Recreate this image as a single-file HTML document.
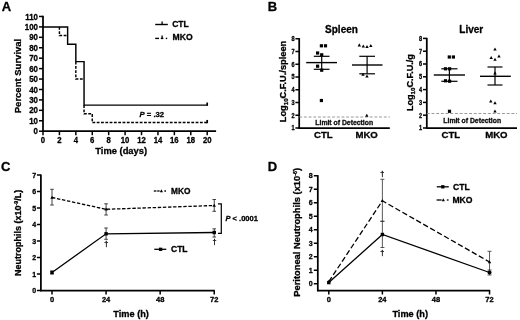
<!DOCTYPE html>
<html lang="en"><head><meta charset="utf-8"><title>Figure</title>
<style>
html,body{margin:0;padding:0;background:#fff;}
body{width:520px;height:320px;overflow:hidden;}
svg{display:block;filter:blur(0.5px);font-family:'Liberation Sans', Arial, sans-serif;}
text{stroke:#000;stroke-width:0.3px;stroke-linejoin:round;}
</style></head><body>
<svg width="520" height="320" viewBox="0 0 520 320">
<rect width="520" height="320" fill="#fff"/>
<g>
<text x="1.80" y="10.60" font-size="13" font-weight="bold" text-anchor="start" fill="#000">A</text>
<line x1="43.00" y1="15.87" x2="43.00" y2="131.95" stroke="#000" stroke-width="1.75" stroke-linecap="butt"/>
<line x1="42.25" y1="131.20" x2="216.10" y2="131.20" stroke="#000" stroke-width="1.75" stroke-linecap="butt"/>
<line x1="39.00" y1="131.20" x2="43.00" y2="131.20" stroke="#000" stroke-width="1.5" stroke-linecap="butt"/>
<text transform="translate(38.00 134.30) scale(0.88 1)" font-size="9.0" font-weight="bold" text-anchor="end" fill="#000">0</text>
<line x1="39.00" y1="120.77" x2="43.00" y2="120.77" stroke="#000" stroke-width="1.5" stroke-linecap="butt"/>
<text transform="translate(38.00 123.87) scale(0.88 1)" font-size="9.0" font-weight="bold" text-anchor="end" fill="#000">10</text>
<line x1="39.00" y1="110.34" x2="43.00" y2="110.34" stroke="#000" stroke-width="1.5" stroke-linecap="butt"/>
<text transform="translate(38.00 113.44) scale(0.88 1)" font-size="9.0" font-weight="bold" text-anchor="end" fill="#000">20</text>
<line x1="39.00" y1="99.91" x2="43.00" y2="99.91" stroke="#000" stroke-width="1.5" stroke-linecap="butt"/>
<text transform="translate(38.00 103.01) scale(0.88 1)" font-size="9.0" font-weight="bold" text-anchor="end" fill="#000">30</text>
<line x1="39.00" y1="89.48" x2="43.00" y2="89.48" stroke="#000" stroke-width="1.5" stroke-linecap="butt"/>
<text transform="translate(38.00 92.58) scale(0.88 1)" font-size="9.0" font-weight="bold" text-anchor="end" fill="#000">40</text>
<line x1="39.00" y1="79.05" x2="43.00" y2="79.05" stroke="#000" stroke-width="1.5" stroke-linecap="butt"/>
<text transform="translate(38.00 82.15) scale(0.88 1)" font-size="9.0" font-weight="bold" text-anchor="end" fill="#000">50</text>
<line x1="39.00" y1="68.62" x2="43.00" y2="68.62" stroke="#000" stroke-width="1.5" stroke-linecap="butt"/>
<text transform="translate(38.00 71.72) scale(0.88 1)" font-size="9.0" font-weight="bold" text-anchor="end" fill="#000">60</text>
<line x1="39.00" y1="58.19" x2="43.00" y2="58.19" stroke="#000" stroke-width="1.5" stroke-linecap="butt"/>
<text transform="translate(38.00 61.29) scale(0.88 1)" font-size="9.0" font-weight="bold" text-anchor="end" fill="#000">70</text>
<line x1="39.00" y1="47.76" x2="43.00" y2="47.76" stroke="#000" stroke-width="1.5" stroke-linecap="butt"/>
<text transform="translate(38.00 50.86) scale(0.88 1)" font-size="9.0" font-weight="bold" text-anchor="end" fill="#000">80</text>
<line x1="39.00" y1="37.33" x2="43.00" y2="37.33" stroke="#000" stroke-width="1.5" stroke-linecap="butt"/>
<text transform="translate(38.00 40.43) scale(0.88 1)" font-size="9.0" font-weight="bold" text-anchor="end" fill="#000">90</text>
<line x1="39.00" y1="26.90" x2="43.00" y2="26.90" stroke="#000" stroke-width="1.5" stroke-linecap="butt"/>
<text transform="translate(38.00 30.00) scale(0.88 1)" font-size="9.0" font-weight="bold" text-anchor="end" fill="#000">100</text>
<line x1="39.00" y1="16.47" x2="43.00" y2="16.47" stroke="#000" stroke-width="1.5" stroke-linecap="butt"/>
<text transform="translate(38.00 19.57) scale(0.88 1)" font-size="9.0" font-weight="bold" text-anchor="end" fill="#000">110</text>
<line x1="43.00" y1="131.20" x2="43.00" y2="135.20" stroke="#000" stroke-width="1.5" stroke-linecap="butt"/>
<text transform="translate(43.00 143.40) scale(0.9 1)" font-size="8.6" font-weight="bold" text-anchor="middle" fill="#000">0</text>
<line x1="59.42" y1="131.20" x2="59.42" y2="135.20" stroke="#000" stroke-width="1.5" stroke-linecap="butt"/>
<text transform="translate(59.42 143.40) scale(0.9 1)" font-size="8.6" font-weight="bold" text-anchor="middle" fill="#000">2</text>
<line x1="75.84" y1="131.20" x2="75.84" y2="135.20" stroke="#000" stroke-width="1.5" stroke-linecap="butt"/>
<text transform="translate(75.84 143.40) scale(0.9 1)" font-size="8.6" font-weight="bold" text-anchor="middle" fill="#000">4</text>
<line x1="92.26" y1="131.20" x2="92.26" y2="135.20" stroke="#000" stroke-width="1.5" stroke-linecap="butt"/>
<text transform="translate(92.26 143.40) scale(0.9 1)" font-size="8.6" font-weight="bold" text-anchor="middle" fill="#000">6</text>
<line x1="108.68" y1="131.20" x2="108.68" y2="135.20" stroke="#000" stroke-width="1.5" stroke-linecap="butt"/>
<text transform="translate(108.68 143.40) scale(0.9 1)" font-size="8.6" font-weight="bold" text-anchor="middle" fill="#000">8</text>
<line x1="125.10" y1="131.20" x2="125.10" y2="135.20" stroke="#000" stroke-width="1.5" stroke-linecap="butt"/>
<text transform="translate(125.10 143.40) scale(0.9 1)" font-size="8.6" font-weight="bold" text-anchor="middle" fill="#000">10</text>
<line x1="141.52" y1="131.20" x2="141.52" y2="135.20" stroke="#000" stroke-width="1.5" stroke-linecap="butt"/>
<text transform="translate(141.52 143.40) scale(0.9 1)" font-size="8.6" font-weight="bold" text-anchor="middle" fill="#000">12</text>
<line x1="157.94" y1="131.20" x2="157.94" y2="135.20" stroke="#000" stroke-width="1.5" stroke-linecap="butt"/>
<text transform="translate(157.94 143.40) scale(0.9 1)" font-size="8.6" font-weight="bold" text-anchor="middle" fill="#000">14</text>
<line x1="174.36" y1="131.20" x2="174.36" y2="135.20" stroke="#000" stroke-width="1.5" stroke-linecap="butt"/>
<text transform="translate(174.36 143.40) scale(0.9 1)" font-size="8.6" font-weight="bold" text-anchor="middle" fill="#000">16</text>
<line x1="190.78" y1="131.20" x2="190.78" y2="135.20" stroke="#000" stroke-width="1.5" stroke-linecap="butt"/>
<text transform="translate(190.78 143.40) scale(0.9 1)" font-size="8.6" font-weight="bold" text-anchor="middle" fill="#000">18</text>
<line x1="207.20" y1="131.20" x2="207.20" y2="135.20" stroke="#000" stroke-width="1.5" stroke-linecap="butt"/>
<text transform="translate(207.20 143.40) scale(0.9 1)" font-size="8.6" font-weight="bold" text-anchor="middle" fill="#000">20</text>
<text x="121.20" y="154.10" font-size="9.35" font-weight="bold" text-anchor="middle" fill="#000">Time (days)</text>
<text x="21.00" y="76.00" font-size="9.5" font-weight="bold" text-anchor="middle" fill="#000" transform="rotate(-90 21.00 76.00)">Percent Survival</text>
<path d="M43.00,26.90 L67.63,26.90 L67.63,44.32 L75.84,44.32 L75.84,61.63 L84.05,61.63 L84.05,105.12 L207.20,105.12" fill="none" stroke="#000" stroke-width="1.45"/>
<line x1="207.20" y1="105.82" x2="207.20" y2="102.52" stroke="#000" stroke-width="1.7" stroke-linecap="butt"/>
<path d="M59.42,26.90 L59.42,35.56 L67.63,35.56" fill="none" stroke="#000" stroke-width="1.45" stroke-dasharray="2.8 1.5"/>
<path d="M75.84,61.63 L75.84,79.05 L84.05,79.05" fill="none" stroke="#000" stroke-width="1.45" stroke-dasharray="2.8 1.5"/>
<path d="M84.05,105.12 L84.05,113.78 L92.26,113.78 L92.26,122.54 L207.20,122.54" fill="none" stroke="#000" stroke-width="1.45" stroke-dasharray="2.8 1.5"/>
<line x1="207.20" y1="123.24" x2="207.20" y2="119.94" stroke="#000" stroke-width="1.7" stroke-linecap="butt"/>
<line x1="155.20" y1="24.50" x2="167.80" y2="24.50" stroke="#000" stroke-width="1.4" stroke-linecap="butt"/>
<line x1="162.10" y1="24.50" x2="162.10" y2="21.60" stroke="#000" stroke-width="1.3" stroke-linecap="butt"/>
<text x="172.20" y="27.30" font-size="8.5" font-weight="bold" text-anchor="start" fill="#000">CTL</text>
<line x1="155.20" y1="38.40" x2="159.00" y2="38.40" stroke="#000" stroke-width="1.4" stroke-linecap="butt"/>
<line x1="160.80" y1="38.40" x2="163.40" y2="38.40" stroke="#000" stroke-width="1.4" stroke-linecap="butt"/>
<line x1="162.10" y1="38.40" x2="162.10" y2="35.40" stroke="#000" stroke-width="1.3" stroke-linecap="butt"/>
<line x1="165.80" y1="38.40" x2="167.20" y2="38.40" stroke="#000" stroke-width="1.4" stroke-linecap="butt"/>
<text x="172.60" y="39.90" font-size="8.6" font-weight="bold" text-anchor="start" fill="#000">MKO</text>
<text x="139.50" y="116.80" font-size="7.7" font-weight="bold" text-anchor="start" fill="#000"><tspan font-style="italic">P</tspan> = .32</text>
<text x="267.70" y="10.60" font-size="13" font-weight="bold" text-anchor="start" fill="#000">B</text>
<line x1="299.20" y1="38.15" x2="299.20" y2="128.75" stroke="#000" stroke-width="1.75" stroke-linecap="butt"/>
<line x1="298.45" y1="128.00" x2="389.80" y2="128.00" stroke="#000" stroke-width="1.75" stroke-linecap="butt"/>
<line x1="295.40" y1="128.00" x2="299.20" y2="128.00" stroke="#000" stroke-width="1.5" stroke-linecap="butt"/>
<text transform="translate(294.50 130.30) scale(0.88 1)" font-size="6.3" font-weight="bold" text-anchor="end" fill="#000">1</text>
<line x1="295.40" y1="115.25" x2="299.20" y2="115.25" stroke="#000" stroke-width="1.5" stroke-linecap="butt"/>
<text transform="translate(294.50 117.55) scale(0.88 1)" font-size="6.3" font-weight="bold" text-anchor="end" fill="#000">2</text>
<line x1="295.40" y1="102.50" x2="299.20" y2="102.50" stroke="#000" stroke-width="1.5" stroke-linecap="butt"/>
<text transform="translate(294.50 104.80) scale(0.88 1)" font-size="6.3" font-weight="bold" text-anchor="end" fill="#000">3</text>
<line x1="295.40" y1="89.75" x2="299.20" y2="89.75" stroke="#000" stroke-width="1.5" stroke-linecap="butt"/>
<text transform="translate(294.50 92.05) scale(0.88 1)" font-size="6.3" font-weight="bold" text-anchor="end" fill="#000">4</text>
<line x1="295.40" y1="77.00" x2="299.20" y2="77.00" stroke="#000" stroke-width="1.5" stroke-linecap="butt"/>
<text transform="translate(294.50 79.30) scale(0.88 1)" font-size="6.3" font-weight="bold" text-anchor="end" fill="#000">5</text>
<line x1="295.40" y1="64.25" x2="299.20" y2="64.25" stroke="#000" stroke-width="1.5" stroke-linecap="butt"/>
<text transform="translate(294.50 66.55) scale(0.88 1)" font-size="6.3" font-weight="bold" text-anchor="end" fill="#000">6</text>
<line x1="295.40" y1="51.50" x2="299.20" y2="51.50" stroke="#000" stroke-width="1.5" stroke-linecap="butt"/>
<text transform="translate(294.50 53.80) scale(0.88 1)" font-size="6.3" font-weight="bold" text-anchor="end" fill="#000">7</text>
<line x1="295.40" y1="38.75" x2="299.20" y2="38.75" stroke="#000" stroke-width="1.5" stroke-linecap="butt"/>
<text transform="translate(294.50 41.05) scale(0.88 1)" font-size="6.3" font-weight="bold" text-anchor="end" fill="#000">8</text>
<text x="341.50" y="32.50" font-size="10" font-weight="bold" text-anchor="middle" fill="#000">Spleen</text>
<text x="285.80" y="81.50" font-size="9.25" font-weight="bold" text-anchor="middle" fill="#000" transform="rotate(-90 285.80 81.50)">Log<tspan font-size="6.2" dy="1.8">10</tspan><tspan dy="-1.8">C.F.U./spleen</tspan></text>
<line x1="299.20" y1="117.00" x2="389.80" y2="117.00" stroke="#8f8f8f" stroke-width="0.9" stroke-dasharray="2.9 1.8" stroke-linecap="butt"/>
<text x="344.20" y="124.60" font-size="6.85" font-weight="bold" text-anchor="middle" fill="#1a1a1a">Limit of Detection</text>
<text x="323.40" y="138.40" font-size="9.6" font-weight="bold" text-anchor="middle" fill="#000">CTL</text>
<text x="366.60" y="138.40" font-size="9.6" font-weight="bold" text-anchor="middle" fill="#000">MKO</text>
<rect x="319.80" y="44.20" width="3.2" height="3.2" fill="#000"/>
<rect x="323.90" y="44.20" width="3.2" height="3.2" fill="#000"/>
<rect x="316.00" y="51.40" width="3.2" height="3.2" fill="#000"/>
<rect x="320.10" y="53.20" width="3.2" height="3.2" fill="#000"/>
<rect x="316.00" y="64.60" width="3.2" height="3.2" fill="#000"/>
<rect x="320.10" y="68.60" width="3.2" height="3.2" fill="#000"/>
<rect x="319.80" y="98.90" width="3.2" height="3.2" fill="#000"/>
<line x1="306.20" y1="62.60" x2="337.00" y2="62.60" stroke="#000" stroke-width="1.4" stroke-linecap="butt"/>
<line x1="313.80" y1="56.30" x2="329.50" y2="56.30" stroke="#000" stroke-width="1.2" stroke-linecap="butt"/>
<line x1="313.80" y1="69.30" x2="329.50" y2="69.30" stroke="#000" stroke-width="1.2" stroke-linecap="butt"/>
<line x1="321.70" y1="56.30" x2="321.70" y2="69.30" stroke="#000" stroke-width="1.2" stroke-linecap="butt"/>
<polygon points="359.30,43.36 357.60,46.42 361.00,46.42" fill="#000"/>
<polygon points="363.30,44.56 361.60,47.62 365.00,47.62" fill="#000"/>
<polygon points="367.00,45.06 365.30,48.12 368.70,48.12" fill="#000"/>
<polygon points="370.80,44.06 369.10,47.12 372.50,47.12" fill="#000"/>
<polygon points="363.00,72.76 361.30,75.82 364.70,75.82" fill="#000"/>
<polygon points="367.00,74.56 365.30,77.62 368.70,77.62" fill="#000"/>
<polygon points="366.80,113.76 365.10,116.82 368.50,116.82" fill="#000"/>
<line x1="352.00" y1="65.00" x2="382.50" y2="65.00" stroke="#000" stroke-width="1.4" stroke-linecap="butt"/>
<line x1="359.30" y1="56.30" x2="375.00" y2="56.30" stroke="#000" stroke-width="1.2" stroke-linecap="butt"/>
<line x1="359.30" y1="73.80" x2="375.00" y2="73.80" stroke="#000" stroke-width="1.2" stroke-linecap="butt"/>
<line x1="367.10" y1="56.30" x2="367.10" y2="73.80" stroke="#000" stroke-width="1.2" stroke-linecap="butt"/>
<line x1="426.80" y1="37.80" x2="426.80" y2="128.75" stroke="#000" stroke-width="1.75" stroke-linecap="butt"/>
<line x1="426.05" y1="128.00" x2="517.00" y2="128.00" stroke="#000" stroke-width="1.75" stroke-linecap="butt"/>
<line x1="423.00" y1="128.00" x2="426.80" y2="128.00" stroke="#000" stroke-width="1.5" stroke-linecap="butt"/>
<text transform="translate(422.10 130.30) scale(0.88 1)" font-size="6.3" font-weight="bold" text-anchor="end" fill="#000">1</text>
<line x1="423.00" y1="115.20" x2="426.80" y2="115.20" stroke="#000" stroke-width="1.5" stroke-linecap="butt"/>
<text transform="translate(422.10 117.50) scale(0.88 1)" font-size="6.3" font-weight="bold" text-anchor="end" fill="#000">2</text>
<line x1="423.00" y1="102.40" x2="426.80" y2="102.40" stroke="#000" stroke-width="1.5" stroke-linecap="butt"/>
<text transform="translate(422.10 104.70) scale(0.88 1)" font-size="6.3" font-weight="bold" text-anchor="end" fill="#000">3</text>
<line x1="423.00" y1="89.60" x2="426.80" y2="89.60" stroke="#000" stroke-width="1.5" stroke-linecap="butt"/>
<text transform="translate(422.10 91.90) scale(0.88 1)" font-size="6.3" font-weight="bold" text-anchor="end" fill="#000">4</text>
<line x1="423.00" y1="76.80" x2="426.80" y2="76.80" stroke="#000" stroke-width="1.5" stroke-linecap="butt"/>
<text transform="translate(422.10 79.10) scale(0.88 1)" font-size="6.3" font-weight="bold" text-anchor="end" fill="#000">5</text>
<line x1="423.00" y1="64.00" x2="426.80" y2="64.00" stroke="#000" stroke-width="1.5" stroke-linecap="butt"/>
<text transform="translate(422.10 66.30) scale(0.88 1)" font-size="6.3" font-weight="bold" text-anchor="end" fill="#000">6</text>
<line x1="423.00" y1="51.20" x2="426.80" y2="51.20" stroke="#000" stroke-width="1.5" stroke-linecap="butt"/>
<text transform="translate(422.10 53.50) scale(0.88 1)" font-size="6.3" font-weight="bold" text-anchor="end" fill="#000">7</text>
<line x1="423.00" y1="38.40" x2="426.80" y2="38.40" stroke="#000" stroke-width="1.5" stroke-linecap="butt"/>
<text transform="translate(422.10 40.70) scale(0.88 1)" font-size="6.3" font-weight="bold" text-anchor="end" fill="#000">8</text>
<text x="471.30" y="32.50" font-size="10" font-weight="bold" text-anchor="middle" fill="#000">Liver</text>
<text x="412.80" y="82.60" font-size="9.1" font-weight="bold" text-anchor="middle" fill="#000" transform="rotate(-90 412.80 82.60)">Log<tspan font-size="6.2" dy="1.8">10</tspan><tspan dy="-1.8">C.F.U./g</tspan></text>
<line x1="426.80" y1="113.50" x2="517.00" y2="113.50" stroke="#8f8f8f" stroke-width="0.9" stroke-dasharray="2.9 1.8" stroke-linecap="butt"/>
<text x="472.20" y="122.60" font-size="6.85" font-weight="bold" text-anchor="middle" fill="#1a1a1a">Limit of Detection</text>
<text x="450.80" y="138.40" font-size="9.6" font-weight="bold" text-anchor="middle" fill="#000">CTL</text>
<text x="496.40" y="138.40" font-size="9.6" font-weight="bold" text-anchor="middle" fill="#000">MKO</text>
<rect x="447.70" y="55.40" width="3.2" height="3.2" fill="#000"/>
<rect x="451.80" y="55.40" width="3.2" height="3.2" fill="#000"/>
<rect x="443.90" y="67.20" width="3.2" height="3.2" fill="#000"/>
<rect x="448.00" y="67.20" width="3.2" height="3.2" fill="#000"/>
<rect x="443.90" y="79.20" width="3.2" height="3.2" fill="#000"/>
<rect x="448.00" y="79.60" width="3.2" height="3.2" fill="#000"/>
<rect x="447.90" y="109.70" width="3.2" height="3.2" fill="#000"/>
<line x1="433.80" y1="75.00" x2="465.00" y2="75.00" stroke="#000" stroke-width="1.4" stroke-linecap="butt"/>
<line x1="441.30" y1="68.80" x2="457.50" y2="68.80" stroke="#000" stroke-width="1.2" stroke-linecap="butt"/>
<line x1="441.30" y1="81.30" x2="457.50" y2="81.30" stroke="#000" stroke-width="1.2" stroke-linecap="butt"/>
<line x1="449.40" y1="68.80" x2="449.40" y2="81.30" stroke="#000" stroke-width="1.2" stroke-linecap="butt"/>
<polygon points="495.00,47.56 493.30,50.62 496.70,50.62" fill="#000"/>
<polygon points="491.20,56.06 489.50,59.12 492.90,59.12" fill="#000"/>
<polygon points="495.00,57.76 493.30,60.82 496.70,60.82" fill="#000"/>
<polygon points="499.00,54.56 497.30,57.62 500.70,57.62" fill="#000"/>
<polygon points="495.00,71.36 493.30,74.42 496.70,74.42" fill="#000"/>
<polygon points="490.80,99.46 489.10,102.52 492.50,102.52" fill="#000"/>
<polygon points="495.00,101.16 493.30,104.22 496.70,104.22" fill="#000"/>
<polygon points="495.00,109.46 493.30,112.52 496.70,112.52" fill="#000"/>
<line x1="480.00" y1="76.30" x2="510.80" y2="76.30" stroke="#000" stroke-width="1.4" stroke-linecap="butt"/>
<line x1="487.50" y1="67.00" x2="502.50" y2="67.00" stroke="#000" stroke-width="1.2" stroke-linecap="butt"/>
<line x1="487.50" y1="85.00" x2="502.50" y2="85.00" stroke="#000" stroke-width="1.2" stroke-linecap="butt"/>
<line x1="495.00" y1="67.00" x2="495.00" y2="85.00" stroke="#000" stroke-width="1.2" stroke-linecap="butt"/>
<text x="1.00" y="170.70" font-size="13" font-weight="bold" text-anchor="start" fill="#000">C</text>
<line x1="40.90" y1="174.40" x2="40.90" y2="291.25" stroke="#000" stroke-width="1.75" stroke-linecap="butt"/>
<line x1="40.15" y1="290.50" x2="214.84" y2="290.50" stroke="#000" stroke-width="1.75" stroke-linecap="butt"/>
<line x1="36.90" y1="290.50" x2="40.90" y2="290.50" stroke="#000" stroke-width="1.5" stroke-linecap="butt"/>
<text transform="translate(36.20 293.40) scale(0.88 1)" font-size="8.0" font-weight="bold" text-anchor="end" fill="#000">0</text>
<line x1="36.90" y1="274.00" x2="40.90" y2="274.00" stroke="#000" stroke-width="1.5" stroke-linecap="butt"/>
<text transform="translate(36.20 276.90) scale(0.88 1)" font-size="8.0" font-weight="bold" text-anchor="end" fill="#000">1</text>
<line x1="36.90" y1="257.50" x2="40.90" y2="257.50" stroke="#000" stroke-width="1.5" stroke-linecap="butt"/>
<text transform="translate(36.20 260.40) scale(0.88 1)" font-size="8.0" font-weight="bold" text-anchor="end" fill="#000">2</text>
<line x1="36.90" y1="241.00" x2="40.90" y2="241.00" stroke="#000" stroke-width="1.5" stroke-linecap="butt"/>
<text transform="translate(36.20 243.90) scale(0.88 1)" font-size="8.0" font-weight="bold" text-anchor="end" fill="#000">3</text>
<line x1="36.90" y1="224.50" x2="40.90" y2="224.50" stroke="#000" stroke-width="1.5" stroke-linecap="butt"/>
<text transform="translate(36.20 227.40) scale(0.88 1)" font-size="8.0" font-weight="bold" text-anchor="end" fill="#000">4</text>
<line x1="36.90" y1="208.00" x2="40.90" y2="208.00" stroke="#000" stroke-width="1.5" stroke-linecap="butt"/>
<text transform="translate(36.20 210.90) scale(0.88 1)" font-size="8.0" font-weight="bold" text-anchor="end" fill="#000">5</text>
<line x1="36.90" y1="191.50" x2="40.90" y2="191.50" stroke="#000" stroke-width="1.5" stroke-linecap="butt"/>
<text transform="translate(36.20 194.40) scale(0.88 1)" font-size="8.0" font-weight="bold" text-anchor="end" fill="#000">6</text>
<line x1="36.90" y1="175.00" x2="40.90" y2="175.00" stroke="#000" stroke-width="1.5" stroke-linecap="butt"/>
<text transform="translate(36.20 177.90) scale(0.88 1)" font-size="8.0" font-weight="bold" text-anchor="end" fill="#000">7</text>
<line x1="52.00" y1="290.50" x2="52.00" y2="294.50" stroke="#000" stroke-width="1.5" stroke-linecap="butt"/>
<text x="52.00" y="302.10" font-size="7.5" font-weight="bold" text-anchor="middle" fill="#000">0</text>
<line x1="106.08" y1="290.50" x2="106.08" y2="294.50" stroke="#000" stroke-width="1.5" stroke-linecap="butt"/>
<text x="106.08" y="302.10" font-size="7.5" font-weight="bold" text-anchor="middle" fill="#000">24</text>
<line x1="160.16" y1="290.50" x2="160.16" y2="294.50" stroke="#000" stroke-width="1.5" stroke-linecap="butt"/>
<text x="160.16" y="302.10" font-size="7.5" font-weight="bold" text-anchor="middle" fill="#000">48</text>
<line x1="214.24" y1="290.50" x2="214.24" y2="294.50" stroke="#000" stroke-width="1.5" stroke-linecap="butt"/>
<text x="214.24" y="302.10" font-size="7.5" font-weight="bold" text-anchor="middle" fill="#000">72</text>
<text x="131.10" y="316.50" font-size="9.2" font-weight="bold" text-anchor="middle" fill="#000">Time (h)</text>
<text x="21.10" y="232.80" font-size="9" font-weight="bold" text-anchor="middle" fill="#000" transform="rotate(-90 21.10 232.80)">Neutrophils (x10<tspan font-size="5.4" dy="-3.2">-9</tspan><tspan dy="3.2">/L)</tspan></text>
<line x1="52.00" y1="189.30" x2="52.00" y2="205.00" stroke="#2e2e2e" stroke-width="0.9" stroke-linecap="butt"/>
<line x1="50.20" y1="189.30" x2="53.80" y2="189.30" stroke="#2e2e2e" stroke-width="0.9" stroke-linecap="butt"/>
<line x1="50.20" y1="205.00" x2="53.80" y2="205.00" stroke="#2e2e2e" stroke-width="0.9" stroke-linecap="butt"/>
<line x1="106.08" y1="203.80" x2="106.08" y2="215.00" stroke="#2e2e2e" stroke-width="0.9" stroke-linecap="butt"/>
<line x1="104.28" y1="203.80" x2="107.88" y2="203.80" stroke="#2e2e2e" stroke-width="0.9" stroke-linecap="butt"/>
<line x1="104.28" y1="215.00" x2="107.88" y2="215.00" stroke="#2e2e2e" stroke-width="0.9" stroke-linecap="butt"/>
<line x1="214.24" y1="199.50" x2="214.24" y2="211.30" stroke="#2e2e2e" stroke-width="0.9" stroke-linecap="butt"/>
<line x1="212.44" y1="199.50" x2="216.04" y2="199.50" stroke="#2e2e2e" stroke-width="0.9" stroke-linecap="butt"/>
<line x1="212.44" y1="211.30" x2="216.04" y2="211.30" stroke="#2e2e2e" stroke-width="0.9" stroke-linecap="butt"/>
<path d="M52.00,197.50 L106.08,209.30 L214.24,205.50" fill="none" stroke="#000" stroke-width="1.3" stroke-dasharray="3.4 1.7"/>
<polygon points="52.00,195.66 50.30,198.72 53.70,198.72" fill="#000"/>
<polygon points="106.08,207.46 104.38,210.52 107.78,210.52" fill="#000"/>
<polygon points="214.24,203.66 212.54,206.72 215.94,206.72" fill="#000"/>
<line x1="52.00" y1="271.00" x2="52.00" y2="274.00" stroke="#2e2e2e" stroke-width="0.9" stroke-linecap="butt"/>
<line x1="50.20" y1="271.00" x2="53.80" y2="271.00" stroke="#2e2e2e" stroke-width="0.9" stroke-linecap="butt"/>
<line x1="50.20" y1="274.00" x2="53.80" y2="274.00" stroke="#2e2e2e" stroke-width="0.9" stroke-linecap="butt"/>
<line x1="106.08" y1="228.00" x2="106.08" y2="239.30" stroke="#2e2e2e" stroke-width="0.9" stroke-linecap="butt"/>
<line x1="104.28" y1="228.00" x2="107.88" y2="228.00" stroke="#2e2e2e" stroke-width="0.9" stroke-linecap="butt"/>
<line x1="104.28" y1="239.30" x2="107.88" y2="239.30" stroke="#2e2e2e" stroke-width="0.9" stroke-linecap="butt"/>
<line x1="214.24" y1="228.80" x2="214.24" y2="237.00" stroke="#2e2e2e" stroke-width="0.9" stroke-linecap="butt"/>
<line x1="212.44" y1="228.80" x2="216.04" y2="228.80" stroke="#2e2e2e" stroke-width="0.9" stroke-linecap="butt"/>
<line x1="212.44" y1="237.00" x2="216.04" y2="237.00" stroke="#2e2e2e" stroke-width="0.9" stroke-linecap="butt"/>
<path d="M52.00,272.50 L106.08,233.80 L214.24,232.50" fill="none" stroke="#000" stroke-width="1.3"/>
<rect x="50.30" y="270.80" width="3.4" height="3.4" fill="#000"/>
<rect x="104.38" y="232.10" width="3.4" height="3.4" fill="#000"/>
<rect x="212.54" y="230.80" width="3.4" height="3.4" fill="#000"/>
<text x="106.38" y="246.40" font-size="7.3" font-weight="normal" text-anchor="middle" fill="#000">†</text>
<text x="214.54" y="244.40" font-size="7.3" font-weight="normal" text-anchor="middle" fill="#000">†</text>
<path d="M218.0,203.8 L221.3,203.8 L221.3,233.3 L218.0,233.3" fill="none" stroke="#000" stroke-width="1.2"/>
<text x="225.50" y="220.80" font-size="7.5" font-weight="bold" text-anchor="start" fill="#000"><tspan font-style="italic">P</tspan> &lt; .0001</text>
<line x1="153.80" y1="191.00" x2="156.40" y2="191.00" stroke="#000" stroke-width="1.3" stroke-linecap="butt"/>
<line x1="157.20" y1="191.00" x2="159.60" y2="191.00" stroke="#000" stroke-width="1.3" stroke-linecap="butt"/>
<polygon points="161.40,189.27 159.80,192.15 163.00,192.15" fill="#000"/>
<line x1="164.40" y1="191.00" x2="166.00" y2="191.00" stroke="#000" stroke-width="1.3" stroke-linecap="butt"/>
<text x="171.00" y="194.00" font-size="8.3" font-weight="bold" text-anchor="start" fill="#000">MKO</text>
<line x1="154.30" y1="249.30" x2="166.30" y2="249.30" stroke="#000" stroke-width="1.3" stroke-linecap="butt"/>
<rect x="158.95" y="247.65" width="3.3" height="3.3" fill="#000"/>
<text x="171.00" y="252.30" font-size="8.5" font-weight="bold" text-anchor="start" fill="#000">CTL</text>
<text x="267.70" y="170.70" font-size="13" font-weight="bold" text-anchor="start" fill="#000">D</text>
<line x1="317.80" y1="175.15" x2="317.80" y2="291.25" stroke="#000" stroke-width="1.75" stroke-linecap="butt"/>
<line x1="317.05" y1="290.50" x2="490.14" y2="290.50" stroke="#000" stroke-width="1.75" stroke-linecap="butt"/>
<line x1="313.80" y1="283.75" x2="317.80" y2="283.75" stroke="#000" stroke-width="1.5" stroke-linecap="butt"/>
<text transform="translate(312.60 286.25) scale(0.88 1)" font-size="8.1" font-weight="bold" text-anchor="end" fill="#000">0</text>
<line x1="313.80" y1="270.25" x2="317.80" y2="270.25" stroke="#000" stroke-width="1.5" stroke-linecap="butt"/>
<text transform="translate(312.60 272.75) scale(0.88 1)" font-size="8.1" font-weight="bold" text-anchor="end" fill="#000">1</text>
<line x1="313.80" y1="256.75" x2="317.80" y2="256.75" stroke="#000" stroke-width="1.5" stroke-linecap="butt"/>
<text transform="translate(312.60 259.25) scale(0.88 1)" font-size="8.1" font-weight="bold" text-anchor="end" fill="#000">2</text>
<line x1="313.80" y1="243.25" x2="317.80" y2="243.25" stroke="#000" stroke-width="1.5" stroke-linecap="butt"/>
<text transform="translate(312.60 245.75) scale(0.88 1)" font-size="8.1" font-weight="bold" text-anchor="end" fill="#000">3</text>
<line x1="313.80" y1="229.75" x2="317.80" y2="229.75" stroke="#000" stroke-width="1.5" stroke-linecap="butt"/>
<text transform="translate(312.60 232.25) scale(0.88 1)" font-size="8.1" font-weight="bold" text-anchor="end" fill="#000">4</text>
<line x1="313.80" y1="216.25" x2="317.80" y2="216.25" stroke="#000" stroke-width="1.5" stroke-linecap="butt"/>
<text transform="translate(312.60 218.75) scale(0.88 1)" font-size="8.1" font-weight="bold" text-anchor="end" fill="#000">5</text>
<line x1="313.80" y1="202.75" x2="317.80" y2="202.75" stroke="#000" stroke-width="1.5" stroke-linecap="butt"/>
<text transform="translate(312.60 205.25) scale(0.88 1)" font-size="8.1" font-weight="bold" text-anchor="end" fill="#000">6</text>
<line x1="313.80" y1="189.25" x2="317.80" y2="189.25" stroke="#000" stroke-width="1.5" stroke-linecap="butt"/>
<text transform="translate(312.60 191.75) scale(0.88 1)" font-size="8.1" font-weight="bold" text-anchor="end" fill="#000">7</text>
<line x1="313.80" y1="175.75" x2="317.80" y2="175.75" stroke="#000" stroke-width="1.5" stroke-linecap="butt"/>
<text transform="translate(312.60 178.25) scale(0.88 1)" font-size="8.1" font-weight="bold" text-anchor="end" fill="#000">8</text>
<line x1="328.80" y1="290.50" x2="328.80" y2="294.50" stroke="#000" stroke-width="1.5" stroke-linecap="butt"/>
<text x="328.80" y="302.10" font-size="7.5" font-weight="bold" text-anchor="middle" fill="#000">0</text>
<line x1="382.38" y1="290.50" x2="382.38" y2="294.50" stroke="#000" stroke-width="1.5" stroke-linecap="butt"/>
<text x="382.38" y="302.10" font-size="7.5" font-weight="bold" text-anchor="middle" fill="#000">24</text>
<line x1="435.96" y1="290.50" x2="435.96" y2="294.50" stroke="#000" stroke-width="1.5" stroke-linecap="butt"/>
<text x="435.96" y="302.10" font-size="7.5" font-weight="bold" text-anchor="middle" fill="#000">48</text>
<line x1="489.54" y1="290.50" x2="489.54" y2="294.50" stroke="#000" stroke-width="1.5" stroke-linecap="butt"/>
<text x="489.54" y="302.10" font-size="7.5" font-weight="bold" text-anchor="middle" fill="#000">72</text>
<text x="410.20" y="316.60" font-size="9.2" font-weight="bold" text-anchor="middle" fill="#000">Time (h)</text>
<text x="299.90" y="232.30" font-size="9.35" font-weight="bold" text-anchor="middle" fill="#000" transform="rotate(-90 299.90 232.30)">Peritoneal Neutrophils (x10<tspan font-size="5.4" dy="-3.2">-6</tspan><tspan dy="3.2">)</tspan></text>
<line x1="382.38" y1="179.30" x2="382.38" y2="221.30" stroke="#2e2e2e" stroke-width="0.8" stroke-linecap="butt"/>
<line x1="380.38" y1="179.30" x2="384.38" y2="179.30" stroke="#2e2e2e" stroke-width="0.8" stroke-linecap="butt"/>
<line x1="380.38" y1="221.30" x2="384.38" y2="221.30" stroke="#2e2e2e" stroke-width="0.8" stroke-linecap="butt"/>
<line x1="382.38" y1="221.30" x2="382.38" y2="247.50" stroke="#2e2e2e" stroke-width="0.8" stroke-linecap="butt"/>
<line x1="380.38" y1="221.30" x2="384.38" y2="221.30" stroke="#2e2e2e" stroke-width="0.8" stroke-linecap="butt"/>
<line x1="380.38" y1="247.50" x2="384.38" y2="247.50" stroke="#2e2e2e" stroke-width="0.8" stroke-linecap="butt"/>
<line x1="489.54" y1="251.30" x2="489.54" y2="272.50" stroke="#2e2e2e" stroke-width="0.8" stroke-linecap="butt"/>
<line x1="487.54" y1="251.30" x2="491.54" y2="251.30" stroke="#2e2e2e" stroke-width="0.8" stroke-linecap="butt"/>
<line x1="487.54" y1="272.50" x2="491.54" y2="272.50" stroke="#2e2e2e" stroke-width="0.8" stroke-linecap="butt"/>
<line x1="489.54" y1="270.00" x2="489.54" y2="275.00" stroke="#2e2e2e" stroke-width="0.8" stroke-linecap="butt"/>
<line x1="487.54" y1="270.00" x2="491.54" y2="270.00" stroke="#2e2e2e" stroke-width="0.8" stroke-linecap="butt"/>
<line x1="487.54" y1="275.00" x2="491.54" y2="275.00" stroke="#2e2e2e" stroke-width="0.8" stroke-linecap="butt"/>
<path d="M328.80,281.60 L382.38,200.80 L489.54,262.00" fill="none" stroke="#000" stroke-width="1.3" stroke-dasharray="5.4 2.6"/>
<polygon points="328.80,279.76 327.10,282.82 330.50,282.82" fill="#000"/>
<polygon points="382.38,198.96 380.68,202.02 384.08,202.02" fill="#000"/>
<polygon points="489.54,260.16 487.84,263.22 491.24,263.22" fill="#000"/>
<path d="M328.80,282.60 L382.38,234.50 L489.54,272.50" fill="none" stroke="#000" stroke-width="1.3"/>
<rect x="327.10" y="280.90" width="3.4" height="3.4" fill="#000"/>
<rect x="380.68" y="232.80" width="3.4" height="3.4" fill="#000"/>
<rect x="487.84" y="270.80" width="3.4" height="3.4" fill="#000"/>
<text x="382.18" y="175.60" font-size="7.3" font-weight="normal" text-anchor="middle" fill="#000">†</text>
<text x="382.18" y="254.80" font-size="7.3" font-weight="normal" text-anchor="middle" fill="#000">†</text>
<line x1="436.80" y1="186.80" x2="448.80" y2="186.80" stroke="#000" stroke-width="1.3" stroke-linecap="butt"/>
<rect x="441.15" y="185.15" width="3.3" height="3.3" fill="#000"/>
<text x="453.00" y="189.70" font-size="8.6" font-weight="bold" text-anchor="start" fill="#000">CTL</text>
<line x1="436.60" y1="200.00" x2="441.60" y2="200.00" stroke="#000" stroke-width="1.3" stroke-linecap="butt"/>
<polygon points="443.30,198.27 441.70,201.15 444.90,201.15" fill="#000"/>
<line x1="446.80" y1="200.00" x2="448.60" y2="200.00" stroke="#000" stroke-width="1.3" stroke-linecap="butt"/>
<text x="452.40" y="203.30" font-size="8.6" font-weight="bold" text-anchor="start" fill="#000">MKO</text>
</g>
</svg>
</body></html>
